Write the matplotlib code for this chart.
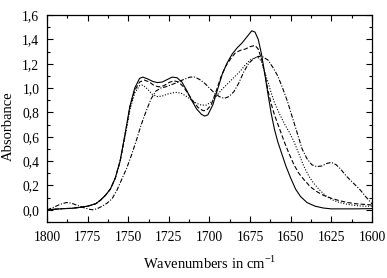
import matplotlib
matplotlib.use("Agg")
import matplotlib.pyplot as plt
from matplotlib.ticker import MultipleLocator, FuncFormatter

plt.rcParams['font.family'] = ['Liberation Serif', 'DejaVu Serif']
plt.rcParams['mathtext.fontset'] = 'custom'
plt.rcParams['mathtext.rm'] = 'Liberation Serif'

solid_x = [1800, 1795, 1790, 1785, 1780, 1775, 1770, 1767, 1764, 1761, 1758, 1755, 1752, 1749, 1746, 1743, 1741, 1738, 1735, 1732, 1729, 1726, 1723, 1720, 1717, 1714, 1711, 1708, 1705, 1703, 1701, 1698, 1695, 1692, 1689, 1686, 1683, 1680, 1677, 1674, 1672, 1670, 1668, 1666, 1664, 1662, 1660, 1658, 1656, 1653, 1650, 1647, 1644, 1640, 1635, 1630, 1625, 1620, 1610, 1600]
solid_y = [0.0, 0.005, 0.01, 0.012, 0.02, 0.03, 0.05, 0.08, 0.12, 0.17, 0.26, 0.40, 0.62, 0.85, 1.00, 1.08, 1.09, 1.075, 1.055, 1.045, 1.05, 1.07, 1.09, 1.085, 1.05, 0.98, 0.90, 0.83, 0.785, 0.77, 0.78, 0.86, 0.99, 1.12, 1.21, 1.28, 1.33, 1.37, 1.42, 1.47, 1.46, 1.40, 1.28, 1.12, 0.95, 0.79, 0.66, 0.56, 0.48, 0.36, 0.26, 0.17, 0.11, 0.06, 0.03, 0.015, 0.008, 0.008, 0.008, 0.01]

dashed_x = [1800, 1795, 1790, 1785, 1780, 1775, 1770, 1767, 1764, 1761, 1758, 1755, 1752, 1749, 1746, 1743, 1740, 1737, 1734, 1731, 1728, 1725, 1722, 1719, 1716, 1713, 1710, 1707, 1704, 1702, 1699, 1696, 1693, 1690, 1687, 1684, 1681, 1678, 1675, 1672, 1670, 1668, 1666, 1664, 1662, 1660, 1657, 1654, 1651, 1648, 1645, 1642, 1638, 1634, 1630, 1625, 1620, 1615, 1610, 1605, 1600]
dashed_y = [0.0, 0.005, 0.01, 0.012, 0.02, 0.03, 0.05, 0.08, 0.12, 0.17, 0.26, 0.40, 0.61, 0.84, 0.98, 1.05, 1.065, 1.05, 1.02, 1.01, 1.02, 1.045, 1.06, 1.05, 1.01, 0.95, 0.89, 0.84, 0.815, 0.815, 0.86, 0.97, 1.09, 1.18, 1.24, 1.29, 1.31, 1.32, 1.34, 1.35, 1.32, 1.24, 1.12, 0.98, 0.87, 0.78, 0.67, 0.56, 0.46, 0.37, 0.30, 0.25, 0.19, 0.15, 0.12, 0.095, 0.075, 0.06, 0.05, 0.045, 0.04]

dotted_x = [1800, 1795, 1790, 1785, 1780, 1775, 1770, 1767, 1764, 1761, 1758, 1755, 1752, 1749, 1746, 1743, 1741, 1738, 1735, 1732, 1729, 1726, 1723, 1720, 1717, 1714, 1711, 1708, 1705, 1702, 1699, 1696, 1693, 1690, 1687, 1684, 1681, 1678, 1675, 1672, 1670, 1668, 1666, 1664, 1662, 1660, 1657, 1654, 1651, 1648, 1645, 1642, 1639, 1636, 1632, 1628, 1624, 1620, 1615, 1610, 1605, 1600]
dotted_y = [0.0, 0.005, 0.01, 0.012, 0.02, 0.03, 0.05, 0.08, 0.12, 0.17, 0.26, 0.40, 0.60, 0.82, 0.96, 1.02, 1.025, 0.99, 0.945, 0.93, 0.935, 0.95, 0.96, 0.965, 0.955, 0.93, 0.90, 0.875, 0.86, 0.86, 0.885, 0.93, 0.98, 1.02, 1.06, 1.10, 1.14, 1.19, 1.23, 1.25, 1.25, 1.22, 1.13, 1.05, 0.96, 0.88, 0.79, 0.71, 0.64, 0.56, 0.46, 0.36, 0.28, 0.22, 0.16, 0.11, 0.08, 0.06, 0.045, 0.035, 0.03, 0.03]

dashdot_x = [1800, 1796, 1792, 1788, 1785, 1782, 1778, 1774, 1772, 1769, 1766, 1763, 1760, 1757, 1754, 1751, 1748, 1745, 1742, 1739, 1736, 1733, 1730, 1727, 1724, 1720, 1716, 1712, 1709, 1706, 1703, 1700, 1697, 1694, 1691, 1688, 1685, 1682, 1679, 1676, 1673, 1670, 1667, 1664, 1661, 1658, 1655, 1652, 1649, 1646, 1643, 1640, 1637, 1634, 1631, 1628, 1625, 1622, 1619, 1616, 1613, 1610, 1607, 1604, 1600]
dashdot_y = [0.0, 0.02, 0.045, 0.06, 0.055, 0.04, 0.02, 0.005, 0.0, 0.01, 0.03, 0.055, 0.09, 0.16, 0.25, 0.34, 0.45, 0.57, 0.70, 0.81, 0.91, 0.975, 1.00, 1.01, 1.025, 1.045, 1.07, 1.09, 1.09, 1.07, 1.04, 1.00, 0.96, 0.93, 0.915, 0.93, 0.97, 1.04, 1.13, 1.20, 1.24, 1.26, 1.255, 1.23, 1.17, 1.10, 1.00, 0.89, 0.76, 0.63, 0.50, 0.42, 0.37, 0.355, 0.36, 0.38, 0.39, 0.37, 0.33, 0.28, 0.24, 0.20, 0.16, 0.11, 0.05]

x_ticks = [1800, 1775, 1750, 1725, 1700, 1675, 1650, 1625, 1600]
y_ticks = [0.0, 0.2, 0.4, 0.6, 0.8, 1.0, 1.2, 1.4, 1.6]

fig = plt.figure(figsize=(3.87, 2.78), dpi=100)
ax = fig.add_axes([0.1214, 0.2014, 0.8398, 0.7446])

lw = 0.8
ax.plot(solid_x, solid_y, color='black', lw=lw, linestyle='-')
ax.plot(dashed_x, dashed_y, color='black', lw=lw, linestyle=(0, (4, 2)))
ax.plot(dotted_x, dotted_y, color='black', lw=lw, linestyle=(0, (1, 1.5)))
ax.plot(dashdot_x, dashdot_y, color='black', lw=lw, linestyle=(0, (4, 1.5, 1, 1.5)))

ax.set_xlim(1800, 1600)
ax.set_ylim(-0.1, 1.6)
ax.set_xticks(x_ticks)
ax.set_yticks(y_ticks)
ax.xaxis.set_minor_locator(MultipleLocator(12.5))
ax.yaxis.set_minor_locator(MultipleLocator(0.1))
ax.xaxis.set_major_formatter(FuncFormatter(lambda v, p: f"{v:.0f}"))
ax.yaxis.set_major_formatter(FuncFormatter(lambda v, p: f"{v:.1f}".replace('.', ',')))

ax.tick_params(which='both', direction='in', top=True, right=True, labelsize=9.8, width=0.8)
ax.tick_params(axis='x', which='major', pad=6.5)
ax.tick_params(axis='y', which='major', pad=5.5)
ax.tick_params(which='major', length=4)
ax.tick_params(which='minor', length=2.5)
for s in ax.spines.values():
    s.set_linewidth(0.9)

ax.set_xlabel('Wavenumbers in cm$^{-1}$', fontsize=10.5)
ax.set_ylabel('Absorbance', fontsize=10.5)
ax.xaxis.set_label_coords(0.5, -0.16)
ax.yaxis.set_label_coords(-0.118, 0.465)
ax.yaxis.label.set_va('center')

fig.savefig('out.png', dpi=100)
